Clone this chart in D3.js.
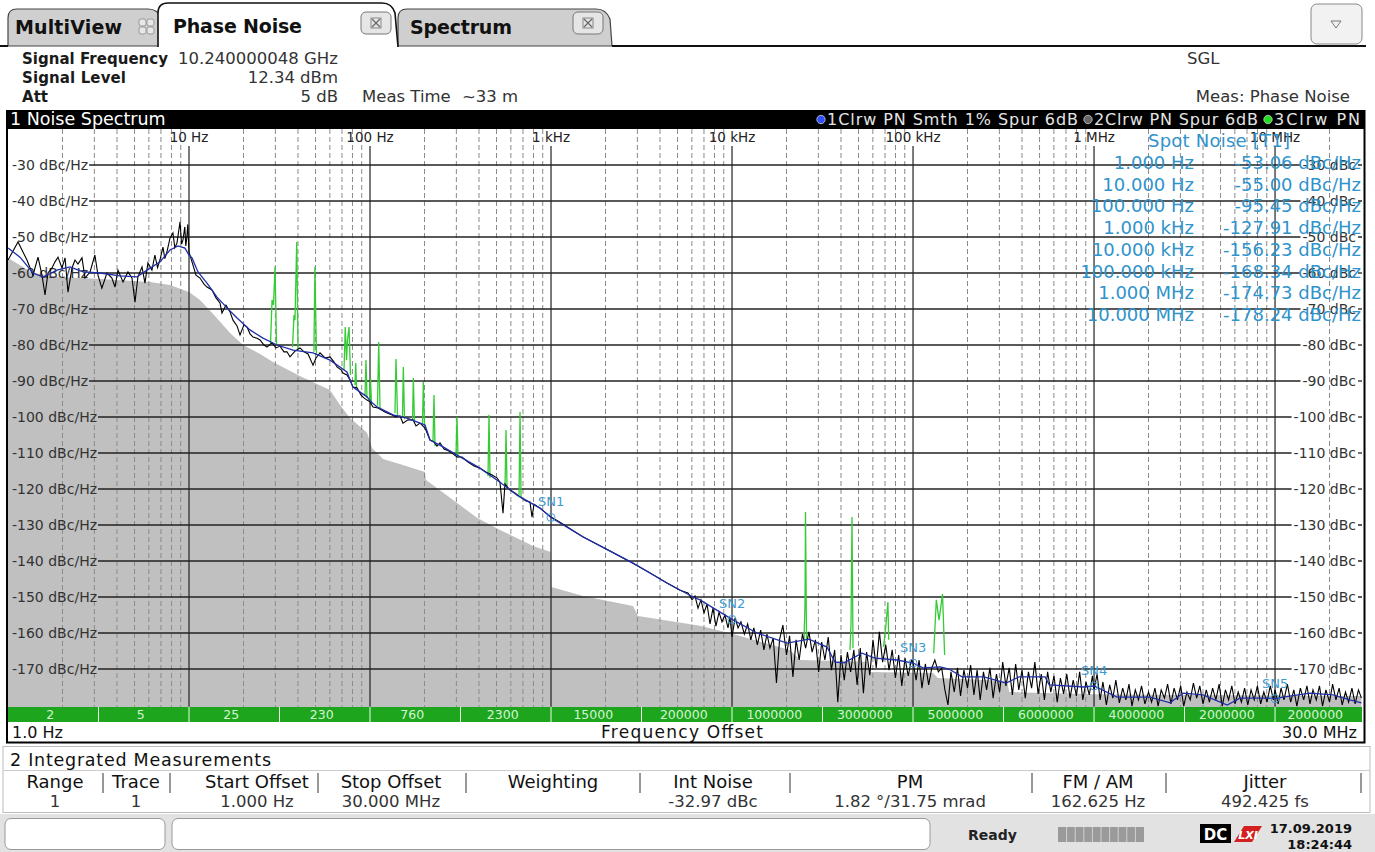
<!DOCTYPE html>
<html><head><meta charset="utf-8">
<script src="https://cdn.jsdelivr.net/npm/d3@7"></script>
<style>
body{margin:0;background:#fff;}
svg{display:block;font-family:"DejaVu Sans",sans-serif;}
</style></head><body>
<svg id="c" width="1375" height="852"></svg>
<script>
// ---------------- DATA ----------------
const decadeTicks = [10, 100, 1e3, 1e4, 1e5, 1e6, 1e7];
const decadeLabels = ["10 Hz", "100 Hz", "1 kHz", "10 kHz", "100 kHz", "1 MHz", "10 MHz"];
const yTicks = [-30, -40, -50, -60, -70, -80, -90, -100, -110, -120, -130, -140, -150, -160, -170];

// trace 1: smoothed phase noise (blue)
const trace1 = [[1,-53.06],[1.165,-55.6],[1.374,-60.0],[1.561,-61.1],[1.865,-59.2],[2.20,-58.3],[2.596,-59.7],[3.224,-60.0],[4.157,-60.8],[5.16,-61.1],[5.86,-59.2],[6.92,-56.9],[7.85,-53.6],[8.686,-52.5],[9.50,-53.1],[10,-55.0],[10.39,-55.8],[11.21,-59.7],[12.57,-62.8],[14.28,-66.7],[16.22,-69.7],[18.43,-72.5],[21.73,-75.8],[25.63,-78.1],[30.64,-80.0],[37.55,-81.4],[48.42,-82.2],[60.14,-84.2],[74.54,-87.5],[80.48,-91.7],[96.3,-94.4],[100,-95.45],[109.3,-97.2],[134.0,-99.4],[160.1,-100.3],[188.9,-101.7],[201.3,-102.2],[214.5,-106.4],[253.2,-108.3],[302.5,-110.6],[405.1,-114.2],[522.3,-118.1],[648.7,-121.7],[868.6,-125.3],[1000,-127.91],[1502,-133.3],[2838,-140.6],[4370,-146.1],[6090,-150.0],[6660,-150.8],[10000,-156.23],[13740,-160.0],[20130,-162.8],[26630,-161.7],[33470,-163.9],[37070,-168.1],[41570,-168.3],[52230,-165.6],[61600,-167.0],[81510,-167.5],[100000,-168.34],[113600,-169.7],[140900,-169.4],[158000,-170.0],[186500,-172.2],[246800,-172.2],[326400,-173.9],[384600,-172.2],[536400,-172.2],[565600,-174.4],[880000,-175.0],[1e6,-174.73],[1.34e6,-177.8],[2.04e6,-177.8],[2.63e6,-179.4],[3.10e6,-176.7],[4.00e6,-177.2],[5.44e6,-180.0],[6.40e6,-178.1],[9.03e6,-178.1],[1e7,-178.24],[1.107e7,-177.8],[1.561e7,-176.7],[2.09e7,-177.2],[2.596e7,-178.6],[3.0e7,-179.4]];

// trace 2: raw phase noise, spurs removed (black)
const trace2Low = [[1.0,-56.4],[1.136,-51.4],[1.273,-56.4],[1.374,-60.6],[1.465,-55.6],[1.541,-60.6],[1.601,-66.1],[1.663,-60],[1.75,-58.6],[1.818,-56.9],[1.889,-55.6],[1.987,-58.6],[2.066,-55.8],[2.145,-65.3],[2.257,-58.6],[2.345,-56.4],[2.436,-57.5],[2.563,-55.8],[2.663,-61.4],[2.84,-59.7],[3.02,-55],[3.141,-60.6],[3.30,-64.2],[3.52,-60],[3.75,-61.4],[3.90,-63.9],[4.05,-59.2],[4.32,-62.5],[4.60,-59.7],[4.84,-61.4],[5.03,-68.1],[5.22,-61.1],[5.50,-58.3],[5.71,-62.8],[5.93,-57.2],[6.24,-59.2],[6.48,-55],[6.7,-58.5],[6.91,-56.4],[7.18,-52.8],[7.35,-56.0],[7.55,-54.2],[7.85,-50.3],[8.15,-48.9],[8.35,-53.0],[8.58,-51.7],[8.92,-45.8],[9.1,-52.0],[9.26,-50.8],[9.48,-47.2],[9.6,-52.5],[9.72,-50.3],[9.85,-46.5],[10.0,-54.2]];
const trace2Mid = [[10.39,-56.9],[10.93,-60.6],[11.50,-61.4],[12.10,-63.1],[12.57,-63.9],[13.40,-64.7],[14.10,-66.9],[14.83,-68.3],[15.21,-71.1],[16.01,-68.9],[16.85,-70.8],[17.50,-73.1],[18.42,-74.7],[19.13,-77.2],[20.13,-74.4],[20.92,-75.0],[21.73,-76.9],[22.57,-77.8],[23.75,-78.1],[24.68,-78.6],[25.96,-80.0],[26.98,-80.6],[28.74,-79.4],[30.25,-80.8],[31.83,-80.3],[33.47,-81.9],[34.78,-81.9],[36.14,-83.3],[38.51,-81.7],[41.04,-80.8],[43.2,-81.9],[45.45,-82.5],[48.42,-85.6],[50.3,-83.6],[52.94,-82.2],[56.42,-83.6],[60.13,-83.3],[63.21,-84.7],[65.72,-86.1],[69.2,-86.9],[70.9,-87.8],[74.64,-88.3],[77.55,-89.7],[80.55,-91.7],[84.77,-91.9],[89.2,-93.9],[92.56,-94.7],[96.25,-95.3],[100,-95.8],[103.9,-97.2],[110.7,-97.5],[121.0,-98.6],[129.0,-99.2],[139.2,-100.0],[146.5,-99.7],[152.1,-101.7],[162.2,-100.8],[172.8,-100.8],[179.6,-102.5],[188.9,-101.7],[201.3,-103.1],[214.5,-106.4],[225.7,-106.9],[234.5,-108.1],[243.6,-107.2],[256.3,-108.9],[266.3,-109.2],[283.8,-110.0],[302.5,-111.1],[322.4,-111.1],[347.8,-112.5],[375.5,-113.6],[405.1,-114.2],[437.0,-115.3],[472.1,-116.1],[503,-116.9],[522.3,-118.1],[543.0,-126.7],[556.6,-118.6],[593.2,-120.3],[632.1,-121.1],[673.6,-122.2],[727.5,-123.3],[764.9,-123.6],[785.4,-127.8],[805.5,-124.2],[868.6,-125.3],[938.4,-126.7],[1000,-127.8],[1121,-129.2],[1502,-133.3],[2118,-137.2],[2838,-140.6],[3524,-143.3],[4370,-146.1],[5160,-148.1],[5710,-148.9],[6013,-150.8],[6240,-149.7],[6490,-153.1],[6736,-150.8],[7000,-154.4],[7275,-152.0],[7560,-157.5],[7850,-153.1],[8150,-158.1],[8477,-154.2],[8800,-156.9],[9140,-155.0],[9500,-158.6],[9750,-155.8]];
const trace2High = [[1.00e4,-161.1],[1.04e4,-155.8],[1.08e4,-158.6],[1.12e4,-156.9],[1.17e4,-160.3],[1.22e4,-157.5],[1.27e4,-161.9],[1.32e4,-158.6],[1.38e4,-163.3],[1.44e4,-159.2],[1.50e4,-164.7],[1.56e4,-160.3],[1.62e4,-164.2],[1.69e4,-161.4],[1.76e4,-173.9],[1.83e4,-161.9],[1.91e4,-157.8],[2.00e4,-166.1],[2.08e4,-160.8],[2.17e4,-172.2],[2.26e4,-161.9],[2.35e4,-167.5],[2.45e4,-160.3],[2.55e4,-164.2],[2.66e4,-159.7],[2.77e4,-165.3],[2.89e4,-161.9],[3.01e4,-170.8],[3.13e4,-162.5],[3.26e4,-167.5],[3.40e4,-161.1],[3.54e4,-170.3],[3.69e4,-164.7],[3.84e4,-179.2],[4.00e4,-166.1],[4.17e4,-173.1],[4.34e4,-165.3],[4.52e4,-170.8],[4.71e4,-164.7],[4.91e4,-174.4],[5.11e4,-164.2],[5.32e4,-176.7],[5.54e4,-165.3],[5.77e4,-171.7],[6.01e4,-161.9],[6.26e4,-169.7],[6.52e4,-159.7],[6.79e4,-168.1],[7.07e4,-163.3],[7.37e4,-170.3],[7.67e4,-164.7],[7.99e4,-172.5],[8.33e4,-166.1],[8.67e4,-174.7],[9.03e4,-167.0],[9.41e4,-171.9],[9.80e4,-167.5],
[1.00e5,-168.1],[1.04e5,-173.1],[1.08e5,-167.5],[1.12e5,-175.3],[1.17e5,-168.6],[1.22e5,-174.4],[1.27e5,-169.7],[1.32e5,-167.5],[1.38e5,-170.8],[1.44e5,-169.7],[1.50e5,-175.8],[1.56e5,-180.0],[1.62e5,-170.8],[1.69e5,-176.4],[1.76e5,-169.7],[1.83e5,-177.5],[1.91e5,-170.3],[2.00e5,-175.3],[2.08e5,-168.9],[2.17e5,-177.2],[2.26e5,-170.3],[2.35e5,-178.6],[2.45e5,-170.8],[2.55e5,-175.8],[2.66e5,-169.7],[2.77e5,-178.1],[2.89e5,-171.4],[3.01e5,-176.4],[3.13e5,-168.1],[3.26e5,-174.7],[3.40e5,-169.7],[3.54e5,-177.2],[3.69e5,-168.6],[3.84e5,-175.8],[4.00e5,-170.3],[4.17e5,-178.1],[4.34e5,-170.8],[4.52e5,-175.3],[4.71e5,-168.1],[4.91e5,-176.9],[5.11e5,-171.4],[5.32e5,-178.6],[5.54e5,-170.8],[5.77e5,-176.4],[6.01e5,-171.9],[6.26e5,-179.2],[6.52e5,-172.5],[6.79e5,-176.9],[7.07e5,-171.4],[7.37e5,-178.1],[7.67e5,-173.1],[7.99e5,-177.5],[8.33e5,-170.8],[8.67e5,-178.6],[9.03e5,-173.6],[9.41e5,-177.2],[9.80e5,-171.9],
[1.00e6,-175.8],[1.04e6,-171.4],[1.08e6,-178.6],[1.12e6,-173.6],[1.17e6,-180.0],[1.22e6,-174.4],[1.27e6,-178.1],[1.32e6,-173.1],[1.38e6,-179.4],[1.44e6,-175.3],[1.50e6,-178.6],[1.56e6,-174.2],[1.62e6,-180.3],[1.69e6,-175.8],[1.76e6,-178.6],[1.83e6,-174.7],[1.91e6,-179.7],[2.00e6,-176.4],[2.08e6,-179.2],[2.17e6,-175.3],[2.26e6,-180.3],[2.35e6,-175.8],[2.45e6,-178.1],[2.55e6,-174.2],[2.66e6,-179.7],[2.77e6,-175.3],[2.89e6,-178.6],[3.01e6,-174.7],[3.13e6,-180.3],[3.26e6,-176.4],[3.40e6,-178.6],[3.54e6,-173.9],[3.69e6,-178.1],[3.84e6,-174.7],[4.00e6,-179.7],[4.17e6,-175.8],[4.34e6,-179.2],[4.52e6,-175.3],[4.71e6,-178.6],[4.91e6,-174.2],[5.11e6,-180.3],[5.32e6,-175.8],[5.54e6,-178.6],[5.77e6,-174.7],[6.01e6,-179.7],[6.26e6,-176.4],[6.52e6,-179.2],[6.79e6,-175.3],[7.07e6,-180.0],[7.37e6,-175.8],[7.67e6,-178.6],[7.99e6,-174.7],[8.33e6,-179.7],[8.67e6,-176.4],[9.03e6,-179.2],[9.41e6,-174.7],[9.80e6,-178.6],
[1.00e7,-175.8],[1.04e7,-179.7],[1.08e7,-175.3],[1.12e7,-178.6],[1.17e7,-174.2],[1.22e7,-179.2],[1.27e7,-175.8],[1.32e7,-180.3],[1.38e7,-175.3],[1.44e7,-178.6],[1.50e7,-174.7],[1.56e7,-179.7],[1.62e7,-175.8],[1.69e7,-178.6],[1.76e7,-174.7],[1.83e7,-180.3],[1.91e7,-175.8],[2.00e7,-179.2],[2.08e7,-174.2],[2.17e7,-178.6],[2.26e7,-175.3],[2.35e7,-180.0],[2.45e7,-176.4],[2.55e7,-179.2],[2.66e7,-175.3],[2.77e7,-179.7],[2.89e7,-175.8],[3.00e7,-178.1]];

// trace 3: raw phase noise incl. spurs (green) - spur segments
const trace3Spurs = [
 [[28.2,-80.0],[28.75,-67.5],[29.3,-68.9],[29.87,-58.3],[30.44,-80.0]],
 [[37.3,-80.6],[38.03,-71.7],[38.5,-73.1],[39.36,-51.4],[40.03,-81.4]],
 [[49.0,-81.9],[49.6,-58.3],[50.6,-82.8]],
 [[71.85,-86.9],[73.0,-75.0],[74.2,-84.2],[75.1,-78.6],[76.6,-75.0],[78.0,-88.3]],
 [[82.6,-91.1],[83.4,-85.0],[84.2,-91.7]],
 [[93.8,-93.9],[95.0,-84.2],[96.2,-94.7]],
 [[99.4,-95.3],[100.6,-89.2],[101.9,-96.4]],
 [[110,-96.9],[111.7,-79.2],[113.6,-97.8]],
 [[137.4,-98.9],[139.2,-83.9],[141.9,-99.7]],
 [[151.2,-99.7],[152.8,-86.1],[155.1,-100.6]],
 [[171.8,-100.8],[173.5,-89.2],[176.2,-101.7]],
 [[195.0,-101.9],[197.0,-90.3],[200.1,-102.5]],
 [[222.8,-106.9],[225.7,-93.9],[228.6,-108.1]],
 [[298.6,-110.6],[302.5,-100.0],[306.4,-111.4]],
 [[448.6,-116.4],[454.5,-99.4],[460.3,-116.9]],
 [[557,-119.2],[564.3,-103.6],[571.5,-119.7]],
 [[665.8,-121.7],[674.3,-98.6],[683,-122.2]],
 [[24990,-161.9],[25310,-151.7],[25470,-126.4],[25800,-161.9]],
 [[44860,-164.7],[45450,-157.2],[46000,-127.8],[46610,-164.2]],
 [[68710,-163.9],[70680,-158.3],[72650,-151.4],[73390,-161.9]],
 [[130100,-165.6],[134500,-150.8],[139200,-156.4],[145500,-149.2],[149500,-166.1]]
];

// measurement sensitivity floor (grey area)
const floorData = [[1,-55.8],[1.375,-60.0],[1.94,-61.1],[3.22,-61.7],[6.09,-62.5],[7.85,-63.3],[10,-65.3],[11.5,-67.5],[13.6,-71.4],[16.85,-76.7],[19.9,-80.0],[24.7,-82.5],[29.1,-84.7],[41.0,-88.6],[60.1,-92.5],[68.3,-96.7],[77.5,-100.3],[96.3,-104.4],[102.6,-108.6],[118,-111.7],[152,-113.3],[201,-115.3],[204,-117.5],[303,-123.9],[390,-128.0],[523,-131.4],[795,-135.8],[995,-137.5],[1005,-147.2],[1503,-149.7],[2838,-152.5],[3023,-155.3],[6653,-158.0],[10140,-160.3],[20900,-164.7],[23770,-167.5],[55700,-168.0],[57000,-170.8],[129000,-171.1],[137000,-172.5],[331000,-173.3],[340000,-176.4],[1e6,-177.0],[3e6,-177.2],[3e7,-177.5]];

// spot noise table
const spotFreqLabels = ["1.000 Hz","10.000 Hz","100.000 Hz","1.000 kHz","10.000 kHz","100.000 kHz","1.000 MHz","10.000 MHz"];
const spotValues = [-53.06,-55.00,-95.45,-127.91,-156.23,-168.34,-174.73,-178.24];
const markerFreqs = [1e3, 1e4, 1e5, 1e6, 1e7];
const markerValues = [-127.91, -156.23, -168.34, -174.73, -178.24];
const markerNames = ["SN1","SN2","SN3","SN4","SN5"];

// RBW / averaging segment bar
const segBounds = [1, 3.162, 10, 31.62, 100, 316.2, 1e3, 3162, 1e4, 31620, 1e5, 316200, 1e6, 3162000, 1e7, 3e7];
const segLabels = ["2","5","25","230","760","2300","15000","200000","1000000","3000000","5000000","6000000","4000000","2000000","2000000"];

// integrated measurement table
const tableHeaders = ["Range","Trace","Start Offset","Stop Offset","Weighting","Int Noise","PM","FM / AM","Jitter"];
const tableRow = ["1","1","1.000 Hz","30.000 MHz","","-32.97 dBc","1.82 °/31.75 mrad","162.625 Hz","492.425 fs"];

// ---------------- DRAW ----------------
const svg = d3.select("#c");
const X0 = 8, X1 = 1361.4, YT = 129, YB = 706.8;
const x = d3.scaleLog().domain([1, 3e7]).range([X0, X1]);
const y = d3.scaleLinear().domain([-20, -180.5]).range([YT, YB]);

// ---- top tab strip ----
const tabs = svg.append("g");
tabs.append("path").attr("d","M8,46 L8,18 Q8,9 17,9 L148,9 Q158,9 162,19 L164,46 Z").attr("fill","#cfcfcf").attr("stroke","#444").attr("stroke-width",1.2);
tabs.append("path").attr("d","M398,46 L398,18 Q398,9 407,9 L596,9 Q606,9 610,19 L612,46 Z").attr("fill","#cfcfcf").attr("stroke","#444").attr("stroke-width",1.2);
tabs.append("line").attr("x1",612).attr("x2",1366).attr("y1",46).attr("y2",46).attr("stroke","#111").attr("stroke-width",2);
tabs.append("line").attr("x1",0).attr("x2",8).attr("y1",46).attr("y2",46).attr("stroke","#111").attr("stroke-width",2);
tabs.append("path").attr("d","M158,47 L158,13 Q158,3 168,3 L382,3 Q392,3 395,13 L398,47").attr("fill","#fff").attr("stroke","#111").attr("stroke-width",1.6);
tabs.append("text").attr("x",15).attr("y",34).attr("font-size",19).attr("font-weight","bold").attr("fill","#111").attr("textLength",107).text("MultiView");
tabs.append("text").attr("x",173).attr("y",33).attr("font-size",19).attr("font-weight","bold").attr("fill","#111").attr("textLength",129).text("Phase Noise");
tabs.append("text").attr("x",410).attr("y",34).attr("font-size",19).attr("font-weight","bold").attr("fill","#111").attr("textLength",102).text("Spectrum");
// multiview grid icon
[[139,19],[147,19],[139,27],[147,27]].forEach(p=>tabs.append("rect").attr("x",p[0]).attr("y",p[1]).attr("width",7).attr("height",7).attr("rx",2).attr("fill","#e8e8e8").attr("stroke","#999"));
// close buttons
[[361,12],[573,12]].forEach(p=>{
  tabs.append("rect").attr("x",p[0]).attr("y",p[1]).attr("width",30).attr("height",22).attr("rx",5).attr("fill","#e6e6e6").attr("stroke","#777");
  tabs.append("rect").attr("x",p[0]+10).attr("y",p[1]+6).attr("width",10).attr("height",10).attr("fill","none").attr("stroke","#888");
  tabs.append("path").attr("d",`M${p[0]+11},${p[1]+7} L${p[0]+19},${p[1]+15} M${p[0]+19},${p[1]+7} L${p[0]+11},${p[1]+15}`).attr("stroke","#666").attr("stroke-width",1.2);
});
// dropdown button
tabs.append("rect").attr("x",1311).attr("y",4).attr("width",51).attr("height",40).attr("rx",6).attr("fill","#f2f2f2").attr("stroke","#888");
tabs.append("path").attr("d","M1331,21 L1341,21 L1336,28 Z").attr("fill","none").attr("stroke","#777");

// ---- info lines ----
const info = svg.append("g").attr("fill","#222");
const lab = (t,xx,yy,w)=>info.append("text").attr("x",xx).attr("y",yy).attr("font-weight","bold").attr("font-size",15).attr("fill","#1a1a1a").attr("textLength",w).text(t);
const val = (t,xx,yy,anchor)=>info.append("text").attr("x",xx).attr("y",yy).attr("font-size",16.5).attr("fill","#333").attr("text-anchor",anchor||"start").text(t);
lab("Signal Frequency",22,64,146); lab("Signal Level",22,83,104); lab("Att",22,102,26);
val("10.240000048 GHz",178,64); val("12.34 dBm",338,83,"end"); val("5 dB",338,102,"end");
val("Meas Time",362,102); val("~33 m",462,102);
val("SGL",1187,64); val("Meas: Phase Noise",1350,102,"end");

// ---- diagram frame/header ----
svg.append("rect").attr("x",6).attr("y",110).attr("width",1359).attr("height",19).attr("fill","#000");
svg.append("text").attr("x",10).attr("y",125).attr("font-size",17.5).attr("fill","#fff").text("1 Noise Spectrum");
// legend
const legItems = [{c:"#3050ff",t:"1Clrw PN Smth 1% Spur 6dB",w:251},{c:"#666",t:"2Clrw PN Spur 6dB",w:164},{c:"#22dd22",t:"3Clrw PN",w:86}];
const leg = svg.append("g");
let lx = 1360;
for (let i = legItems.length-1; i>=0; i--) {
  lx -= legItems[i].w;
  leg.append("text").attr("x",lx).attr("y",125).attr("font-size",16).attr("fill","#e4e4e4").attr("textLength",legItems[i].w).text(legItems[i].t);
  leg.append("circle").attr("cx",lx-6).attr("cy",119.5).attr("r",4.2).attr("fill",legItems[i].c).attr("stroke","#ccc").attr("stroke-width",0.8);
  lx -= 16;
}

// plot background
svg.append("rect").attr("x",X0).attr("y",YT).attr("width",1354).attr("height",YB-YT).attr("fill","#fff");
svg.append("clipPath").attr("id","pc").append("rect").attr("x",X0).attr("y",YT).attr("width",1354).attr("height",YB-YT+0.5);
const plot = svg.append("g").attr("clip-path","url(#pc)");

// grey floor area
plot.append("path").datum(floorData)
  .attr("d", d3.area().x(d=>x(d[0])).y0(YB+2).y1(d=>y(d[1])))
  .attr("fill","#c0c0c0");

// vertical dashed minor grid
const minors = [];
for (let dec = 1; dec <= 1e7; dec *= 10) for (let m = 2; m <= 9; m++) { if (dec*m < 3e7) minors.push(dec*m); }
plot.selectAll(".mg").data(minors).enter().append("line")
  .attr("x1",d=>x(d)).attr("x2",d=>x(d)).attr("y1",YT).attr("y2",YB)
  .attr("stroke","#8a8a8a").attr("stroke-width",1).attr("stroke-dasharray","5,3");
// decade lines
plot.selectAll(".dg").data(decadeTicks).enter().append("line")
  .attr("x1",d=>x(d)).attr("x2",d=>x(d)).attr("y1",146).attr("y2",YB)
  .attr("stroke","#222").attr("stroke-width",1.2);
plot.selectAll(".dl").data(decadeTicks).enter().append("text")
  .attr("x",d=>x(d)).attr("y",142).attr("text-anchor","middle").attr("font-size",13.5).attr("fill","#222")
  .text((d,i)=>decadeLabels[i]);

// horizontal grid with labels
yTicks.forEach(v=>{
  const yy = y(v);
  const tl = plot.append("text").attr("x",12).attr("y",yy+5).attr("font-size",14).attr("fill","#333").text(v+" dBc/Hz");
  const wl = tl.node().getComputedTextLength();
  const tr = plot.append("text").attr("x",1356).attr("y",yy+5).attr("text-anchor","end").attr("font-size",14).attr("fill","#333").text(v+" dBc");
  const wr = tr.node().getComputedTextLength();
  plot.append("line").attr("x1",12+wl+1).attr("x2",1356-wr-2).attr("y1",yy).attr("y2",yy).attr("stroke","#222").attr("stroke-width",1.3);
  plot.append("line").attr("x1",1358).attr("x2",1363).attr("y1",yy).attr("y2",yy).attr("stroke","#222").attr("stroke-width",1.3);
});

// traces
const line = d3.line().x(d=>x(d[0])).y(d=>y(d[1]));
trace3Spurs.forEach(s=>plot.append("path").datum(s).attr("d",line).attr("fill","none").attr("stroke","#33cc33").attr("stroke-width",1.3));
const trace2 = trace2Low.concat(trace2Mid, trace2High);
plot.append("path").datum(trace2).attr("d",line).attr("fill","none").attr("stroke","#000").attr("stroke-width",1.1);
plot.append("path").datum(trace1).attr("d",line).attr("fill","none").attr("stroke","#1f2fa8").attr("stroke-width",1.3);

// markers
markerFreqs.forEach((f,i)=>{
  const mx = x(f), my = y(markerValues[i]);
  plot.append("circle").attr("cx",mx).attr("cy",my).attr("r",4).attr("fill","none").attr("stroke","#3d9bd0").attr("stroke-width",1);
  plot.append("text").attr("x",mx-13).attr("y",my-11).attr("font-size",13).attr("fill","#3d9bd0").text(markerNames[i]);
});

// spot noise table
const sp = svg.append("g").attr("fill","#2f93cc").attr("font-size",18);
sp.append("text").attr("x",1148).attr("y",147).attr("textLength",142).text("Spot Noise [T1]");
spotFreqLabels.forEach((t,i)=>{
  const yy = 169 + i*21.7;
  sp.append("text").attr("x",1194).attr("y",yy).attr("text-anchor","end").text(t);
  sp.append("text").attr("x",1361).attr("y",yy).attr("text-anchor","end").text(spotValues[i].toFixed(2)+" dBc/Hz");
});

// segment bar
svg.append("rect").attr("x",X0).attr("y",707).attr("width",1354).attr("height",15).attr("fill","#1da51d");
segLabels.forEach((t,i)=>{
  const a = x(segBounds[i]), b = x(segBounds[i+1]);
  if (i>0) svg.append("line").attr("x1",a).attr("x2",a).attr("y1",707).attr("y2",722).attr("stroke","#e8ffe8").attr("stroke-width",1);
  svg.append("text").attr("x",(a+b)/2-3).attr("y",719).attr("text-anchor","middle").attr("font-size",12.5).attr("fill","#d4f4d4").text(t);
});
// axis caption row
svg.append("rect").attr("x",X0).attr("y",722).attr("width",1354).attr("height",20).attr("fill","#fff");
svg.append("text").attr("x",12).attr("y",738).attr("font-size",16).attr("fill","#111").text("1.0 Hz");
svg.append("text").attr("x",601).attr("y",738).attr("font-size",17).attr("fill","#111").attr("textLength",162).text("Frequency Offset");
svg.append("text").attr("x",1357).attr("y",738).attr("text-anchor","end").attr("font-size",16).attr("fill","#111").text("30.0 MHz");
// frame
svg.append("path").attr("d","M7,110 L7,742.5 L1364.5,742.5 L1364.5,110").attr("fill","none").attr("stroke","#000").attr("stroke-width",2);

// ---- integrated measurements panel ----
svg.append("rect").attr("x",3).attr("y",746.5).attr("width",1367).attr("height",66).attr("fill","#fff").attr("stroke","#bbb");
svg.append("text").attr("x",10).attr("y",766).attr("font-size",17.5).attr("fill","#111").attr("textLength",261).text("2 Integrated Measurements");
svg.append("line").attr("x1",3).attr("x2",1370).attr("y1",770.5).attr("y2",770.5).attr("stroke","#ccc");
const colCenters = [55,136,257,391,553,713,910,1098,1265];
const colSeps = [103,170,318,466,640,790,1032,1166,1361];
tableHeaders.forEach((h,i)=>svg.append("text").attr("x",colCenters[i]).attr("y",788).attr("text-anchor","middle").attr("font-size",18).attr("fill","#111").text(h));
colSeps.forEach(s=>svg.append("line").attr("x1",s).attr("x2",s).attr("y1",773).attr("y2",793).attr("stroke","#333"));
tableRow.forEach((t,i)=>svg.append("text").attr("x",colCenters[i]).attr("y",807).attr("text-anchor","middle").attr("font-size",16.5).attr("fill","#333").text(t));

// ---- status bar ----
svg.append("rect").attr("x",0).attr("y",814).attr("width",1375).attr("height",38).attr("fill","#e2e2e2");
svg.append("rect").attr("x",5).attr("y",818.5).attr("width",160).attr("height",31).attr("rx",6).attr("fill","#fff").attr("stroke","#999");
svg.append("rect").attr("x",172).attr("y",818.5).attr("width",758).attr("height",31).attr("rx",6).attr("fill","#fff").attr("stroke","#999");
svg.append("text").attr("x",968).attr("y",840).attr("font-size",14).attr("font-weight","bold").attr("fill","#222").text("Ready");
svg.append("rect").attr("x",1058).attr("y",827).attr("width",86).attr("height",15).attr("fill","#9a9a9a");
for (let k=1;k<10;k++) svg.append("line").attr("x1",1058+k*8.6).attr("x2",1058+k*8.6).attr("y1",827).attr("y2",842).attr("stroke","#d0d0d0");
svg.append("rect").attr("x",1200).attr("y",824).attr("width",31).attr("height",19).attr("fill","#000");
svg.append("text").attr("x",1215.5).attr("y",840).attr("text-anchor","middle").attr("font-size",15).attr("font-weight","bold").attr("fill","#fff").text("DC");
svg.append("path").attr("d","M1234,842 L1244,826 L1262,826 L1252,842 Z").attr("fill","#d42020");
svg.append("text").attr("x",1248).attr("y",839).attr("text-anchor","middle").attr("font-size",11).attr("font-weight","bold").attr("font-style","italic").attr("fill","#fff").text("LXI");
svg.append("text").attr("x",1352).attr("y",833).attr("text-anchor","end").attr("font-size",13).attr("font-weight","bold").attr("fill","#111").text("17.09.2019");
svg.append("text").attr("x",1352).attr("y",849).attr("text-anchor","end").attr("font-size",13).attr("font-weight","bold").attr("fill","#111").text("18:24:44");
</script></body></html>
